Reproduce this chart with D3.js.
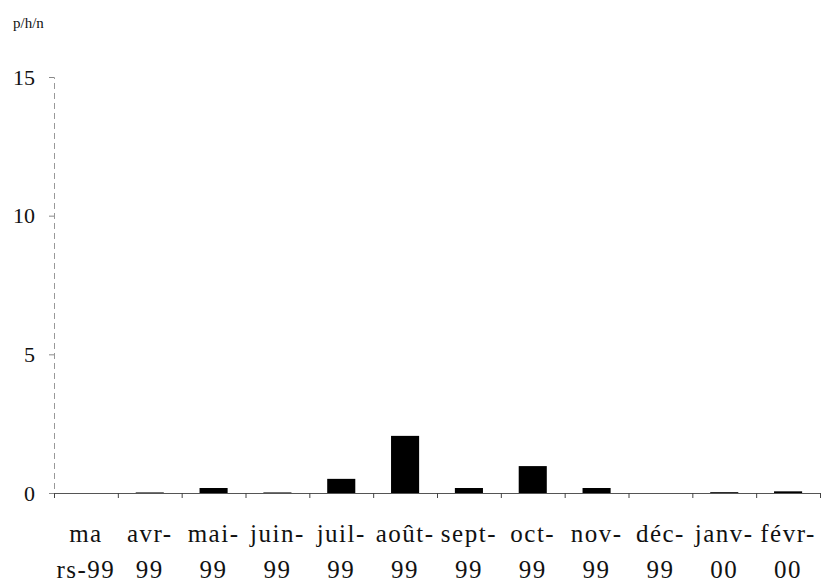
<!DOCTYPE html>
<html>
<head>
<meta charset="utf-8">
<script src="https://cdn.jsdelivr.net/npm/d3@7"></script>
<style>
  html, body { margin: 0; padding: 0; background: #fff; }
  svg { display: block; }
  text { font-family: "Liberation Serif", "Times New Roman", serif; fill: #111; }
</style>
</head>
<body>
<svg id="chart" width="824" height="587"></svg>
<script>
// Monthly catch rate (p/h/n), March 1999 – February 2000
const months = ["mars-99", "avr-99", "mai-99", "juin-99", "juil-99", "août-99",
                "sept-99", "oct-99", "nov-99", "déc-99", "janv-00", "févr-00"];
const labelLine1 = ["ma", "avr-", "mai-", "juin-", "juil-", "août-",
                    "sept-", "oct-", "nov-", "déc-", "janv-", "févr-"];
const labelLine2 = ["rs-99", "99", "99", "99", "99", "99",
                    "99", "99", "99", "99", "00", "00"];
const values = [0, 0.02, 0.18, 0.02, 0.51, 2.06, 0.18, 0.97, 0.18, 0, 0.03, 0.06];
const yTicks = [0, 5, 10, 15];
const yUnit = "p/h/n";

const svg = d3.select("#chart");
const plot = { left: 54, right: 820, top: 77, bottom: 493 };

const x = d3.scaleBand()
  .domain(months)
  .range([plot.left, plot.right])
  .paddingInner(0.56)
  .paddingOuter(0.28);

// boundary ticks between months
const xEdges = d3.scaleLinear().domain([0, months.length]).range([plot.left, plot.right]);

const y = d3.scaleLinear().domain([0, 15]).range([plot.bottom, plot.top]);

// bars
svg.append("g")
  .selectAll("rect")
  .data(values)
  .join("rect")
  .attr("x", (d, i) => x(months[i]))
  .attr("width", x.bandwidth())
  .attr("y", d => y(d))
  .attr("height", d => y(0) - y(d))
  .attr("fill", "#000");

// y axis
const yAxis = svg.append("g")
  .attr("transform", `translate(${plot.left},0)`)
  .call(d3.axisLeft(y).tickValues(yTicks).tickSize(5).tickPadding(14).tickFormat(d3.format("d")));
yAxis.select(".domain").attr("stroke", "#999").attr("stroke-dasharray", "6,4");
yAxis.selectAll(".tick line").attr("stroke", "#888");
yAxis.selectAll(".tick text")
  .style("font-family", "'Liberation Serif', serif")
  .style("font-size", "22px")
  .attr("fill", "#111");

// x axis
const xAxis = svg.append("g")
  .attr("transform", `translate(0,${plot.bottom})`)
  .call(d3.axisBottom(xEdges).tickValues(d3.range(0, months.length + 1)).tickSize(5).tickFormat(""));
xAxis.select(".domain").attr("stroke", "#555");
xAxis.selectAll(".tick line").attr("stroke", "#444");

// two-line month labels
const labels = svg.append("g")
  .selectAll("text")
  .data(months)
  .join("text")
  .attr("text-anchor", "middle")
  .style("font-size", "25px")
  .style("letter-spacing", "1.5px");
labels.append("tspan")
  .attr("x", d => x(d) + x.bandwidth() / 2)
  .attr("y", 542)
  .text((d, i) => labelLine1[i]);
labels.append("tspan")
  .attr("x", d => x(d) + x.bandwidth() / 2)
  .attr("y", 578)
  .text((d, i) => labelLine2[i]);

// unit label
svg.append("text")
  .attr("x", 13)
  .attr("y", 28)
  .style("font-size", "15px")
  .text(yUnit);
</script>
</body>
</html>
